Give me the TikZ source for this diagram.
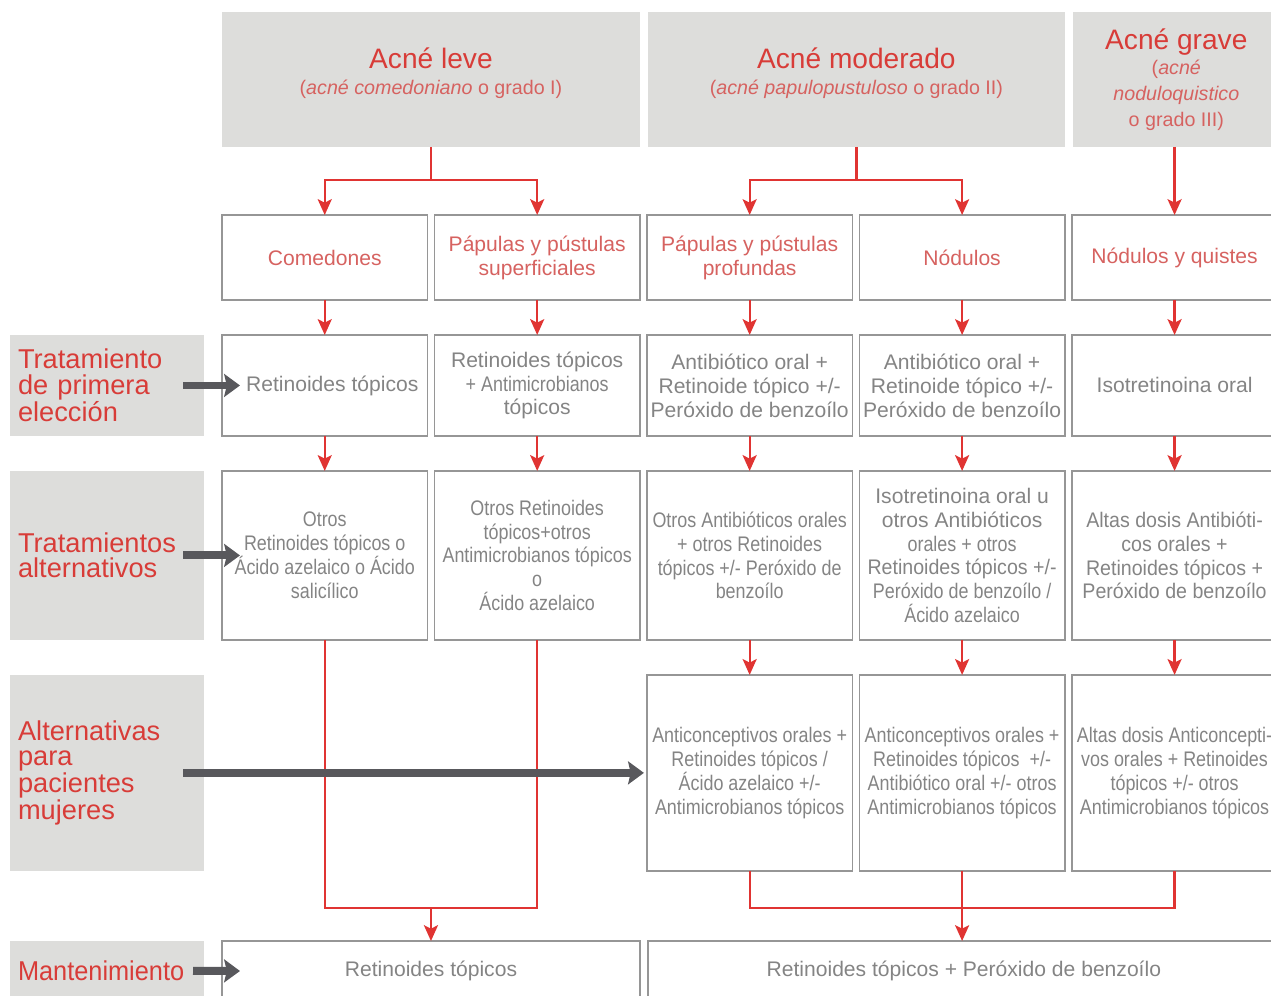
\documentclass[tikz,border=0pt]{standalone}
\usepackage{fontspec}
\setmainfont{Liberation Sans}
\newfontfamily\condfont[FakeStretch=0.85]{Liberation Sans}
\newfontfamily\midfont[FakeStretch=0.93]{Liberation Sans}
\usepackage{tikz}
\usetikzlibrary{positioning}
\usetikzlibrary{arrows.meta}

\definecolor{acnered}{RGB}{216,60,56}
\definecolor{softred}{RGB}{214,98,96}
\definecolor{panelgray}{RGB}{221,221,219}
\definecolor{framegray}{RGB}{150,150,150}
\definecolor{textgray}{RGB}{132,132,132}
\definecolor{arrowgray}{RGB}{88,88,92}
\definecolor{linkred}{RGB}{224,52,50}

\newcommand\bodysize{\fontsize{12}{13.6}\selectfont}
\newcommand\titlesize{\fontsize{16}{19}\selectfont}
\newcommand\subsize{\fontsize{11.2}{14.6}\selectfont}
\newcommand\labelsize{\fontsize{15.5}{14.4}\selectfont}

\begin{document}
\begin{tikzpicture}[x=0.02cm, y=-0.02cm,
                    node distance=0.7cm and 0.14cm,
                    every node/.style={outer sep=0pt},
                    header/.style={fill=panelgray,
                      minimum height=2.7cm,
                      align=center,
                      text=softred,
                      font=\subsize},
                    lesion/.style={draw=framegray,
                      line width=0.8pt,
                      minimum width=4.11cm,
                      minimum height=1.7cm,
                      align=center,
                      text=softred,
                      font=\bodysize},
                    therapy/.style={draw=framegray,
                      line width=0.8pt,
                      minimum width=4.11cm,
                      inner xsep=1pt,
                      inner ysep=2pt,
                      align=center,
                      text=textgray,
                      font=\bodysize},
                    cond/.style={font=\bodysize\condfont},
                    mid/.style={font=\bodysize\midfont},
                    firstline/.style={therapy, minimum height=2.02cm},
                    altline/.style={therapy, minimum height=3.38cm},
                    womenline/.style={therapy, cond, minimum height=3.92cm},
                    keepline/.style={therapy, minimum height=1.2cm},
                    rowlabel/.style={fill=panelgray,
                      text width=3.56cm,
                      inner xsep=0.16cm,
                      align=left,
                      text=acnered,
                      font=\labelsize},
                    link/.style={draw=linkred, line width=1.3pt},
                    linkarrow/.style={link, -{Stealth[length=9pt,width=8pt,inset=2pt]}},
                    bigarrow/.style={draw=arrowgray, line width=4.5pt,
                      -{Stealth[length=9pt,width=13pt,inset=1.5pt]}}]
\useasboundingbox (0,0) rectangle (1271,996);
\clip (0,0) rectangle (1271,996);

\node (hleve) [header, text depth=0.34cm, minimum width=8.36cm, anchor=north west] at (222,12)
  {{\titlesize\color{acnered}Acné leve}\\(\textit{acné comedoniano} o grado I)};
\node (hmod) [header, text depth=0.34cm, minimum width=8.34cm, right=0.16cm of hleve]
  {{\titlesize\color{acnered}Acné moderado}\\(\textit{acné papulopustuloso} o grado II)};
\node (hgrave) [header, minimum width=4.14cm, right=0.16cm of hmod]
  {{\titlesize\color{acnered}Acné grave}\\(\textit{acné}\\\textit{noduloquistico}\\o grado III)};

\node (les1) [lesion, anchor=north west] at (222,215) {Comedones};
\node (les2) [lesion, right=of les1] {Pápulas y pústulas\\superficiales};
\node (les3) [lesion, right=of les2] {Pápulas y pústulas\\profundas};
\node (les4) [lesion, right=of les3] {Nódulos};
\node (les5) [lesion, right=of les4] {Nódulos y quistes};

\node (fst1) [firstline, below=of les1] {\hspace*{0.3cm}Retinoides tópicos};
\node (fst2) [firstline, right=of fst1] {Retinoides tópicos\\{\condfont + Antimicrobianos}\\tópicos};
\node (fst3) [firstline, right=of fst2] {Antibiótico oral +\\Retinoide tópico +/-\\Peróxido de benzoílo};
\node (fst4) [firstline, right=of fst3] {Antibiótico oral +\\Retinoide tópico +/-\\Peróxido de benzoílo};
\node (fst5) [firstline, right=of fst4] {Isotretinoina oral};

\node (alt1) [altline, cond, below=of fst1] {Otros\\Retinoides tópicos o\\Ácido azelaico o Ácido\\salicílico};
\node (alt2) [altline, cond, right=of alt1] {Otros Retinoides\\tópicos+otros\\Antimicrobianos tópicos\\o\\Ácido azelaico};
\node (alt3) [altline, cond, right=of alt2] {Otros Antibióticos orales\\+ otros Retinoides\\tópicos +/- Peróxido de\\benzoílo};
\node (alt4) [altline, right=of alt3] {Isotretinoina oral u\\otros Antibióticos\\{\condfont orales + otros}\\{\midfont Retinoides tópicos +/-}\\{\condfont Peróxido de benzoílo /}\\{\condfont Ácido azelaico}};
\node (alt5) [altline, mid, right=of alt4] {Altas dosis Antibióti-\\cos orales +\\Retinoides tópicos +\\Peróxido de benzoílo};

\node (muj3) [womenline, below=of alt3] {Anticonceptivos orales +\\Retinoides tópicos /\\Ácido azelaico +/-\\Antimicrobianos tópicos};
\node (muj4) [womenline, right=of muj3] {Anticonceptivos orales +\\Retinoides tópicos~~+/-\\Antibiótico oral +/- otros\\Antimicrobianos tópicos};
\node (muj5) [womenline, right=of muj4] {Altas dosis Anticoncepti-\\vos orales + Retinoides\\tópicos +/- otros\\Antimicrobianos tópicos};

\node (mant1) [keepline, minimum width=8.36cm, anchor=north west] at (222,941) {Retinoides tópicos};
\node (mant2) [keepline, minimum width=12.64cm, right=0.16cm of mant1] {Retinoides tópicos + Peróxido de benzoílo};

\node (lab1) [rowlabel, minimum height=2.02cm, left=0.36cm of fst1] {Tratamiento\\de primera\\elección};
\node (lab2) [rowlabel, minimum height=3.38cm, left=0.36cm of alt1] {Tratamientos\\alternativos};
\node (lab3) [rowlabel, minimum height=3.92cm, below=0.7cm of lab2] {Alternativas\\para\\pacientes\\mujeres};
\node (lab4) [rowlabel, minimum height=1.2cm, below=1.4cm of lab3] {{\midfont Mantenimiento}};

\coordinate (jleve) at ([yshift=-0.66cm]hleve.south);
\coordinate (jmod) at ([yshift=-0.66cm]hmod.south);
\draw[link] (hleve.south) -- (jleve);
\draw[linkarrow] (jleve) -| (les1.north);
\draw[linkarrow] (jleve) -| (les2.north);
\draw[link] (hmod.south) -- (jmod);
\draw[linkarrow] (jmod) -| (les3.north);
\draw[linkarrow] (jmod) -| (les4.north);
\draw[linkarrow] (hgrave.south -| les5.north) -- (les5.north);

\draw[linkarrow] (les1) -- (fst1);
\draw[linkarrow] (les2) -- (fst2);
\draw[linkarrow] (les3) -- (fst3);
\draw[linkarrow] (les4) -- (fst4);
\draw[linkarrow] (les5) -- (fst5);
\draw[linkarrow] (fst1) -- (alt1);
\draw[linkarrow] (fst2) -- (alt2);
\draw[linkarrow] (fst3) -- (alt3);
\draw[linkarrow] (fst4) -- (alt4);
\draw[linkarrow] (fst5) -- (alt5);
\draw[linkarrow] (alt3) -- (muj3);
\draw[linkarrow] (alt4) -- (muj4);
\draw[linkarrow] (alt5) -- (muj5);

\coordinate (jmant) at ([yshift=0.66cm]mant1.north);
\draw[link] (alt1.south) |- (jmant) -| (alt2.south);
\draw[linkarrow] (jmant) -- (mant1.north);
\coordinate (jmuj) at ([yshift=0.66cm]mant2.north -| muj4.south);
\draw[link] (muj3.south) |- (jmuj) -| (muj5.south);
\draw[linkarrow] (muj4.south) -- (muj4.south |- mant2.north);

\draw[bigarrow] ([xshift=-0.42cm]lab1.east) -- ([xshift=0.36cm]fst1.west);
\draw[bigarrow] ([xshift=-0.42cm]lab2.east) -- ([xshift=0.36cm]alt1.west);
\draw[bigarrow] ([xshift=-0.42cm]lab3.east) -- ([xshift=-0.06cm]muj3.west);
\draw[bigarrow] ([xshift=-0.22cm]lab4.east) -- ([xshift=0.36cm]mant1.west);
\end{tikzpicture}
\end{document}
